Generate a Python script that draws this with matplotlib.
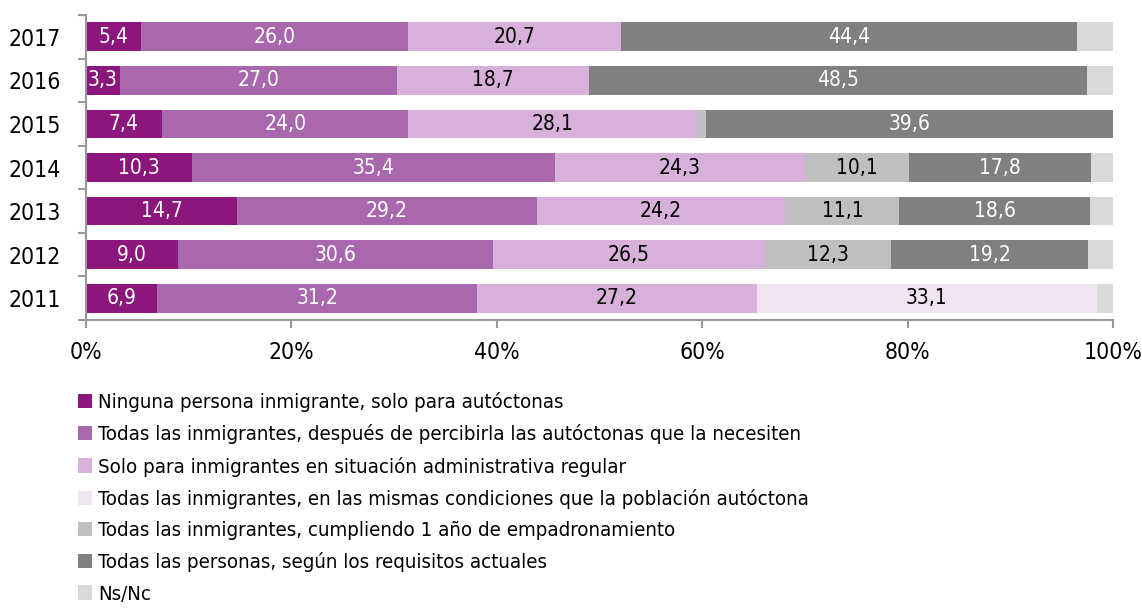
import numpy as np
import matplotlib
matplotlib.use("Agg")
import matplotlib.pyplot as plt
from matplotlib.patches import Patch
from matplotlib import font_manager

# look for a narrow / condensed face among the installed fonts
narrow = None
for f in font_manager.fontManager.ttflist:
    nm = (f.name + ' ' + f.fname).lower()
    if ('narrow' in nm or 'condensed' in nm or f.stretch in ('condensed', 'semi-condensed')) \
            and 'bold' not in nm and 'italic' not in nm and 'oblique' not in nm and 'light' not in nm:
        narrow = f
        break

if narrow is not None:
    font_manager.fontManager.addfont(narrow.fname)
    plt.rcParams['font.family'] = [narrow.name, 'DejaVu Sans']
    if narrow.stretch != 'normal':
        plt.rcParams['font.stretch'] = narrow.stretch
    scale = 1.0
else:
    plt.rcParams['font.family'] = ['Roboto', 'DejaVu Sans']
    scale = 0.85

years = ['2011', '2012', '2013', '2014', '2015', '2016', '2017']

ninguna = [6.9, 9.0, 14.7, 10.3, 7.4, 3.3, 5.4]
despues = [31.2, 30.6, 29.2, 35.4, 24.0, 27.0, 26.0]
regular = [27.2, 26.5, 24.2, 24.3, 28.1, 18.7, 20.7]
mismas = [33.1, 0, 0, 0, 0, 0, 0]
un_anio = [0, 12.3, 11.1, 10.1, 0.9, 0, 0]
actuales = [0, 19.2, 18.6, 17.8, 39.6, 48.5, 44.4]
nsnc = [1.6, 2.4, 2.2, 2.1, 0, 2.5, 3.5]

labels = [
    'Ninguna persona inmigrante, solo para autóctonas',
    'Todas las inmigrantes, después de percibirla las autóctonas que la necesiten',
    'Solo para inmigrantes en situación administrativa regular',
    'Todas las inmigrantes, en las mismas condiciones que la población autóctona',
    'Todas las inmigrantes, cumpliendo 1 año de empadronamiento',
    'Todas las personas, según los requisitos actuales',
    'Ns/Nc',
]
series = [ninguna, despues, regular, mismas, un_anio, actuales, nsnc]
colors = ['#8b167c', '#a967ae', '#d7b1d9', '#f1e4f1', '#bfbfbf', '#808080', '#d9d9d9']
txt_colors = ['white', 'white', 'black', 'black', 'black', 'white', None]

fig = plt.figure(figsize=(11.42, 6.09), dpi=100)
ax = fig.add_axes([0.0753, 0.4745, 0.8993, 0.5009])

y = np.arange(len(years))
left = np.zeros(len(years))
for vals, c, tc in zip(series, colors, txt_colors):
    vals = np.array(vals)
    ax.barh(y, vals, left=left, height=0.66, color=c, edgecolor='none')
    if tc is not None:
        for i, v in enumerate(vals):
            if v >= 3:
                ax.text(left[i] + v / 2, y[i], f'{v:.1f}'.replace('.', ','),
                        ha='center', va='center', color=tc, fontsize=15 * scale)
    left += vals

ax.set_xlim(0, 100)
ax.set_ylim(-0.5, len(years) - 0.5)
ax.set_xticks(np.arange(0, 101, 20))
ax.set_xticklabels([f'{t}%' for t in range(0, 101, 20)])
ax.set_yticks(y)
ax.set_yticklabels(years)
ax.set_yticks(np.arange(-0.5, len(years), 1), minor=True)
ax.tick_params(axis='y', which='major', length=0, pad=18, labelsize=16.5 * scale)
ax.tick_params(axis='y', which='minor', length=6, color='#999999', width=1.5)
ax.tick_params(axis='x', length=6, color='#999999', width=1.5, labelsize=16.5 * scale, pad=9)
for s in ['top', 'right']:
    ax.spines[s].set_visible(False)
for s in ['left', 'bottom']:
    ax.spines[s].set_color('#999999')
    ax.spines[s].set_linewidth(1.5)

handles = [Patch(facecolor=c, edgecolor='none') for c in colors]
fig.legend(handles, labels, loc='upper left', bbox_to_anchor=(0.068, 0.356),
           frameon=False, fontsize=14.7 * scale, handlelength=0.7 / scale, handleheight=0.7 / scale,
           handletextpad=0.3, labelspacing=0.6 / scale, borderpad=0, borderaxespad=0)

fig.savefig('out.png', dpi=100)
